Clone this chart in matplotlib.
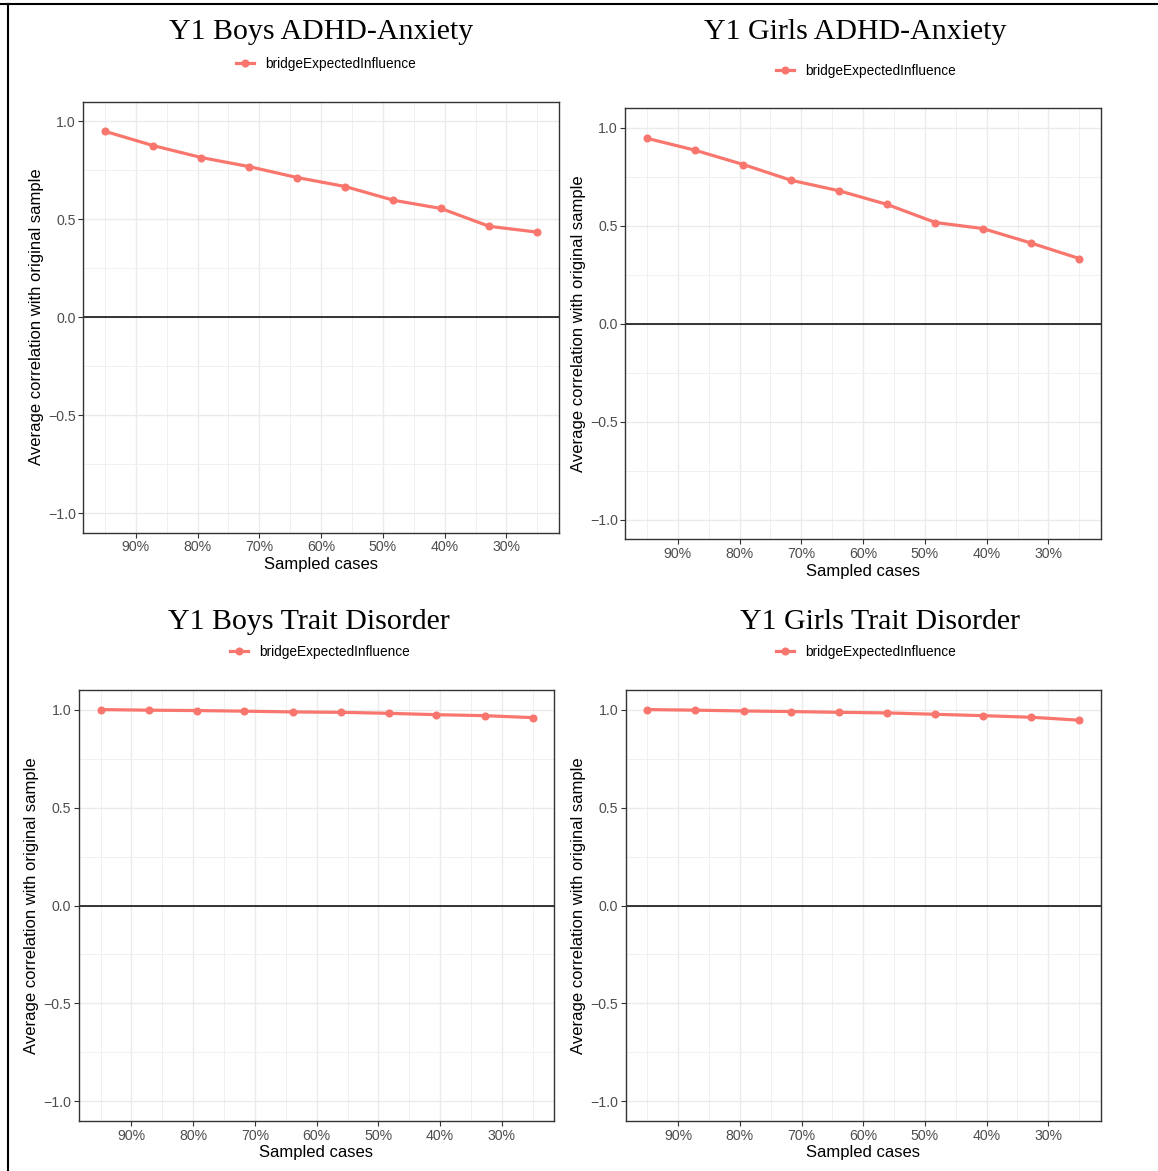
import matplotlib
matplotlib.use("Agg")
import matplotlib.pyplot as plt
from matplotlib.lines import Line2D
from matplotlib.ticker import FixedLocator, FixedFormatter

W, H = 1158, 1171

# Data
sampled = [95.0, 87.2, 79.4, 71.7, 63.9, 56.1, 48.3, 40.6, 32.8, 25.0]
boys_adhd = [0.949, 0.876, 0.815, 0.769, 0.713, 0.667, 0.597, 0.555, 0.464, 0.434]
girls_adhd = [0.947, 0.886, 0.813, 0.733, 0.679, 0.609, 0.517, 0.486, 0.412, 0.333]
boys_trait = [1.000, 0.997, 0.995, 0.992, 0.988, 0.986, 0.981, 0.974, 0.969, 0.959]
girls_trait = [1.000, 0.997, 0.993, 0.990, 0.986, 0.983, 0.976, 0.969, 0.961, 0.946]
titles = ["Y1 Boys ADHD-Anxiety", "Y1 Girls ADHD-Anxiety",
          "Y1 Boys Trait Disorder", "Y1 Girls Trait Disorder"]
series_name = "bridgeExpectedInfluence"
xticks = [90, 80, 70, 60, 50, 40, 30]
xticklabels = ["90%", "80%", "70%", "60%", "50%", "40%", "30%"]
yticks = [-1.0, -0.5, 0.0, 0.5, 1.0]
yticklabels = ["\u22121.0", "\u22120.5", "0.0", "0.5", "1.0"]

COLOR = "#F8766D"
SANS = "Liberation Sans"
SERIF = "Liberation Serif"

fig = plt.figure(figsize=(W / 100, H / 100), dpi=100)

def px_rect(l, t, r, b):
    return [l / W, 1 - b / H, (r - l) / W, (b - t) / H]

panels = [
    dict(rect=(83.3, 101.7, 559, 532.7), vals=boys_adhd, title=(321, 32),
         leg=(326, 64), xl=(321, 564), yl=(37, 317)),
    dict(rect=(625.3, 108.3, 1101, 539.3), vals=girls_adhd, title=(855, 32),
         leg=(866, 71), xl=(863, 571), yl=(578, 324)),
    dict(rect=(79, 690, 554.3, 1121), vals=boys_trait, title=(309, 622),
         leg=(320, 652), xl=(316, 1152), yl=(32, 906)),
    dict(rect=(625.7, 690, 1100.7, 1121), vals=girls_trait, title=(880, 622),
         leg=(866, 652), xl=(863, 1152), yl=(578, 906)),
]

for p, title in zip(panels, titles):
    ax = fig.add_axes(px_rect(*p["rect"]))
    ax.set_xlim(98.5, 21.5)
    ax.set_ylim(-1.1, 1.1)
    ax.xaxis.set_major_locator(FixedLocator(xticks))
    ax.xaxis.set_major_formatter(FixedFormatter(xticklabels))
    ax.xaxis.set_minor_locator(FixedLocator([95, 85, 75, 65, 55, 45, 35, 25]))
    ax.yaxis.set_major_locator(FixedLocator(yticks))
    ax.yaxis.set_major_formatter(FixedFormatter(yticklabels))
    ax.yaxis.set_minor_locator(FixedLocator([-0.75, -0.25, 0.25, 0.75]))
    ax.grid(which="major", color="#EBEBEB", linewidth=1.0)
    ax.grid(which="minor", color="#F0F0F0", linewidth=0.7)
    ax.set_axisbelow(True)
    ax.tick_params(which="major", length=3.5, width=0.8, color="#333333",
                   labelcolor="#4D4D4D", labelsize=10.2, pad=2)
    ax.tick_params(which="minor", length=0)
    for lab in ax.get_xticklabels() + ax.get_yticklabels():
        lab.set_fontfamily(SANS)
    for s in ax.spines.values():
        s.set_color("#333333")
        s.set_linewidth(1.0)
    ax.axhline(0, color="black", linewidth=1.1, zorder=2)
    ax.plot(sampled, p["vals"], color=COLOR, linewidth=2.3, marker="o",
            markersize=4.8, zorder=3)

    fig.text(p["title"][0] / W, 1 - p["title"][1] / H, title, family=SERIF,
             fontsize=21.5, ha="center", va="center", color="black")
    fig.text(p["xl"][0] / W, 1 - p["xl"][1] / H, "Sampled cases", family=SANS,
             fontsize=12, ha="center", va="center", color="black")
    fig.text(p["yl"][0] / W, 1 - p["yl"][1] / H,
             "Average correlation with original sample", family=SANS,
             fontsize=12, ha="center", va="center", rotation=90, color="black")
    handle = Line2D([], [], color=COLOR, linewidth=2.3, marker="o", markersize=4.8)
    fig.legend([handle], [series_name], loc="center",
               bbox_to_anchor=(p["leg"][0] / W, 1 - p["leg"][1] / H),
               frameon=False, handlelength=1.35, handletextpad=0.85,
               prop={"family": SANS, "size": 9.8}, borderpad=0, borderaxespad=0)

# outer frame lines (top and left)
fig.add_artist(Line2D([0, 1], [1 - 4 / H, 1 - 4 / H], transform=fig.transFigure,
                      color="black", linewidth=1.5))
fig.add_artist(Line2D([8 / W, 8 / W], [0, 1 - 4 / H], transform=fig.transFigure,
                      color="black", linewidth=1.5))

fig.savefig("out.png", dpi=100)
